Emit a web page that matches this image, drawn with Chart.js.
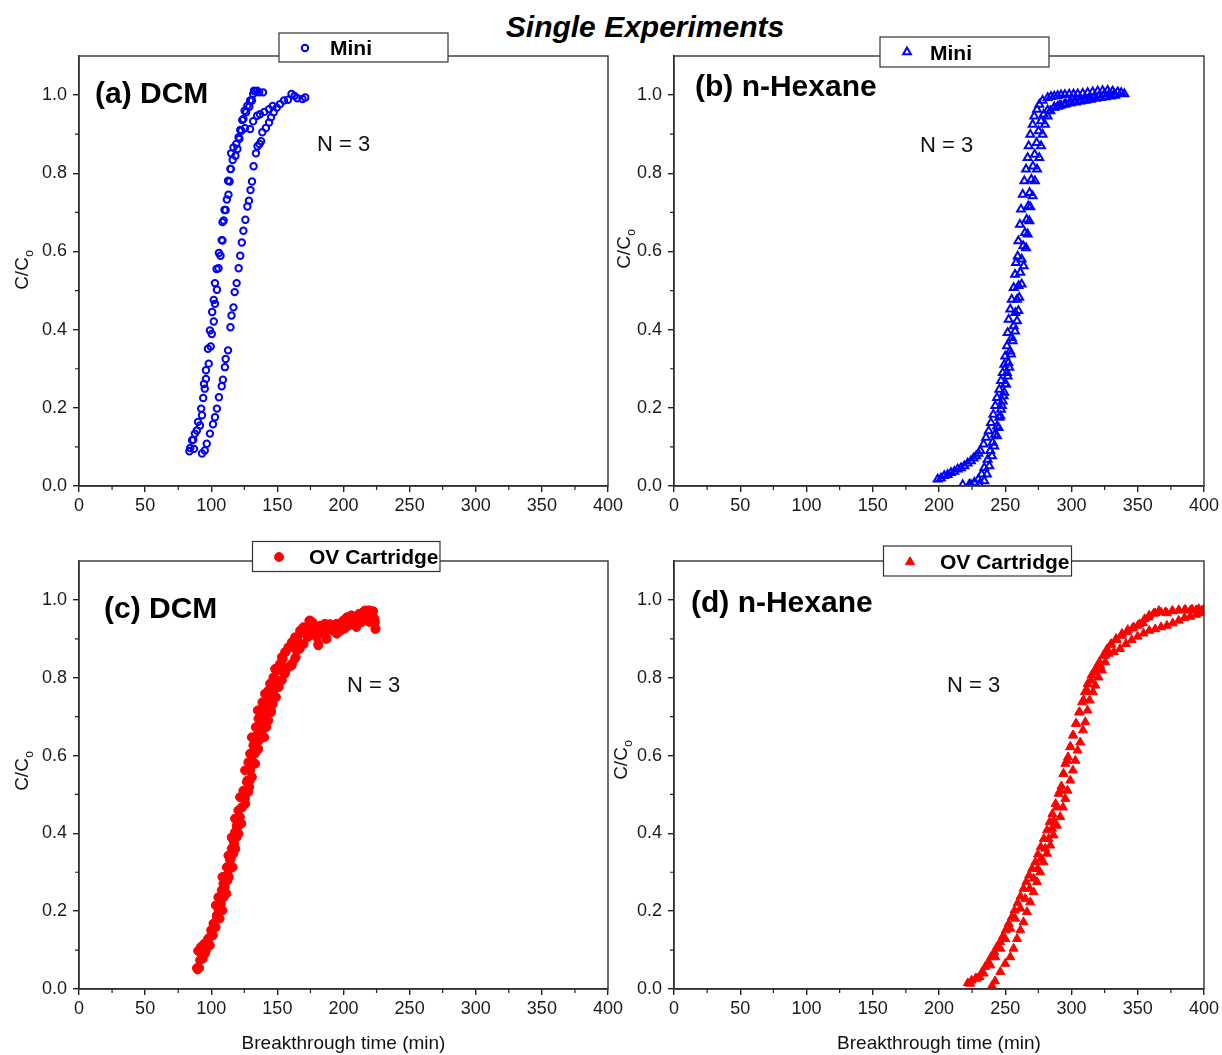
<!DOCTYPE html>
<html>
<head>
<meta charset="utf-8">
<title>Single Experiments</title>
<script src="https://cdn.jsdelivr.net/npm/chart.js@4.4.0/dist/chart.umd.min.js"></script>
<style>
  body { margin: 0; background: #fff; overflow: hidden; }
  .page { position: relative; width: 1222px; height: 1055px; }
  .page canvas { position: absolute; left: 0; top: 0; }
  .main-title {
    position: absolute; left: 645px; top: 10px; transform: translateX(-50%);
    font: italic bold 30px "Liberation Sans", Arial, sans-serif; color: #000; white-space: nowrap;
  }
</style>
</head>
<body>
<div class="page">
  <div class="main-title">Single Experiments</div>
  <canvas id="pa" width="1222" height="1055"></canvas>
  <canvas id="pb" width="1222" height="1055"></canvas>
  <canvas id="pc" width="1222" height="1055"></canvas>
  <canvas id="pd" width="1222" height="1055"></canvas>
</div>
<script>
// axis ticks shared by all four panels
const xTicks = [0, 50, 100, 150, 200, 250, 300, 350, 400];
const yTicks = [0, 0.2, 0.4, 0.6, 0.8, 1.0];
const xMinor = [25, 75, 125, 175, 225, 275, 325, 375];
const yMinor = [0.1, 0.3, 0.5, 0.7, 0.9];

const xTitle = 'Breakthrough time (min)';
const nLabel = 'N = 3';

// (a) DCM, Mini - three runs, [time (min), C/Co]
const dcmMini1 = [[83.5,0.089],[85.5,0.117],[87.6,0.134],[90.0,0.164],[92.4,0.198],[93.9,0.225],[94.5,0.261],[96.0,0.296],
  [97.5,0.351],[99.0,0.398],[100.7,0.445],[101.9,0.476],[102.8,0.519],[104.0,0.555],[105.8,0.596],[107.9,0.629],[108.5,0.675],
  [110.0,0.706],[111.8,0.733],[112.7,0.781],[114.5,0.811],[115.0,0.851],[116.8,0.866],[118.9,0.875],[120.7,0.892],[121.9,0.911],
  [123.4,0.936],[125.2,0.960],[127.3,0.973],[129.4,0.986],[131.7,1.003],[133.2,1.009],[136.2,1.007]];
const dcmMini2 = [[84.1,0.097],[87.0,0.095],[86.4,0.118],[89.1,0.142],[91.5,0.155],[93.0,0.181],[95.1,0.249],[96.0,0.274],
  [98.1,0.313],[99.6,0.357],[100.4,0.389],[101.9,0.421],[102.8,0.466],[104.3,0.502],[105.5,0.557],[107.0,0.589],[108.5,0.628],
  [109.4,0.679],[110.9,0.706],[113.0,0.745],[113.9,0.779],[114.8,0.811],[116.2,0.834],[118.3,0.845],[119.8,0.862],[121.3,0.888],
  [122.8,0.909],[124.3,0.939],[126.4,0.956],[128.8,0.970],[130.8,0.986],[132.3,1.011],[134.7,1.011],[139.2,1.007],
  [125.5,0.915],[129.4,0.913],[131.7,0.933],[134.7,0.947],[136.8,0.951],[140.1,0.957],[143.7,0.964],[146.5,0.972]];
const dcmMini3 = [[93.0,0.083],[95.1,0.091],[96.6,0.108],[99.0,0.134],[101.3,0.158],[102.8,0.176],[104.3,0.198],[105.8,0.227],
  [107.9,0.255],[108.8,0.272],[110.3,0.304],[110.9,0.325],[112.7,0.347],[114.5,0.406],[115.3,0.436],[116.8,0.457],[117.7,0.496],
  [119.2,0.519],[120.7,0.557],[121.9,0.589],[123.1,0.623],[124.3,0.653],[125.8,0.681],[127.3,0.715],[128.5,0.730],[129.7,0.757],
  [130.8,0.779],[132.0,0.818],[133.8,0.851],[135.0,0.869],[136.5,0.875],[137.7,0.882],[138.6,0.905],[141.3,0.916],[143.7,0.930],
  [145.2,0.943],[147.2,0.956],[149.6,0.968],[152.0,0.977],[155.0,0.986],[158.0,0.988],[160.7,1.003],[163.0,0.998],[165.1,0.992],
  [169.0,0.990],[171.1,0.994]];

// (b) n-Hexane, Mini
const hexMini1 = [[199.0,0.017],[201.5,0.020],[204.0,0.026],[206.5,0.029],[209.0,0.034],[211.6,0.037],[214.1,0.043],[216.6,0.046],
  [219.1,0.051],[221.6,0.058],[224.1,0.064],[226.1,0.071],[228.0,0.077],[229.7,0.083],[231.2,0.090],[233.7,0.107],[235.5,0.124],
  [237.5,0.141],[239.2,0.162],[241.0,0.183],[242.5,0.205],[243.8,0.226],[245.5,0.247],[246.8,0.269],[248.1,0.290],[249.3,0.311],
  [250.0,0.332],[251.3,0.358],[251.8,0.392],[252.6,0.426],[253.8,0.452],[254.9,0.477],[256.4,0.507],[257.4,0.541],[258.1,0.571],
  [259.4,0.588],[259.9,0.627],[261.1,0.669],[261.9,0.708],[263.2,0.746],[264.4,0.780],[265.7,0.810],[266.9,0.840],[267.7,0.870],
  [268.9,0.899],[270.7,0.925],[271.9,0.946],[274.0,0.963],[275.7,0.976],[278.2,0.986],[282.0,0.993],[284.5,0.996],[287.0,0.997],
  [289.5,0.998],[292.1,1.000],[295.0,1.001],[298.3,1.002],[301.5,1.002],[304.7,1.003],[308.5,1.004],[312.2,1.006],[316.0,1.008],
  [319.8,1.010],[323.5,1.011],[327.3,1.012],[331.0,1.010],[334.9,1.008],[337.5,1.006],[339.9,1.003]];
const hexMini2 = [[217.9,0.003],[222.9,0.004],[226.7,0.009],[229.7,0.017],[232.2,0.030],[234.2,0.047],[236.7,0.068],[238.7,0.090],
  [240.5,0.111],[242.3,0.132],[243.8,0.153],[245.5,0.175],[246.8,0.196],[248.1,0.217],[249.3,0.239],[250.6,0.260],[251.8,0.281],
  [253.1,0.303],[254.3,0.337],[255.6,0.371],[257.4,0.396],[258.9,0.422],[259.9,0.448],[260.6,0.482],[262.4,0.516],[263.9,0.563],
  [265.7,0.609],[266.9,0.644],[268.2,0.678],[268.9,0.714],[270.7,0.742],[272.4,0.780],[274.0,0.810],[275.7,0.840],[277.0,0.870],
  [278.2,0.899],[280.0,0.925],[282.0,0.946],[284.0,0.959],[287.0,0.968],[289.5,0.971],[292.1,0.974],[295.8,0.977],[299.6,0.980],
  [303.4,0.982],[307.2,0.985],[311.0,0.987],[314.7,0.989],[318.5,0.991],[322.3,0.993],[326.0,0.995],[329.8,0.997],[333.0,0.999]];
const hexMini3 = [[224.1,0.003],[230.4,0.004],[234.2,0.013],[236.2,0.030],[238.0,0.051],[240.0,0.077],[241.7,0.102],[243.8,0.128],
  [245.0,0.149],[246.3,0.179],[247.5,0.205],[248.8,0.230],[250.0,0.260],[251.3,0.290],[252.3,0.315],[253.6,0.345],[254.9,0.379],
  [256.4,0.409],[257.6,0.443],[258.9,0.477],[260.1,0.512],[261.4,0.546],[262.4,0.580],[263.6,0.614],[264.9,0.648],[266.2,0.682],
  [267.4,0.716],[268.4,0.750],[269.7,0.784],[270.9,0.818],[272.2,0.848],[273.7,0.878],[275.2,0.908],[277.0,0.934],[279.0,0.951],
  [282.0,0.961],[287.0,0.969],[290.8,0.972],[294.6,0.976],[298.4,0.980],[302.1,0.983],[305.9,0.984],[309.7,0.986],[313.5,0.990],
  [317.2,0.995],[321.0,0.999],[324.8,1.002],[328.5,1.003],[332.3,1.003]];

// (c) DCM, OV Cartridge
const dcmOv1 = [[89.1,0.054],[90.9,0.054],[90.0,0.098],[92.1,0.108],[93.6,0.078],[94.5,0.116],[96.0,0.099],[97.5,0.129],
  [99.0,0.112],[99.9,0.151],[101.3,0.138],[101.9,0.168],[103.4,0.159],[104.3,0.185],[105.5,0.202],[106.4,0.181],[107.3,0.219],
  [108.5,0.202],[109.4,0.236],[110.3,0.262],[111.5,0.245],[112.4,0.279],[113.3,0.288],[113.9,0.309],[114.8,0.335],[116.2,0.313],
  [116.8,0.348],[117.4,0.373],[118.3,0.360],[119.2,0.390],[119.8,0.416],[120.7,0.399],[121.3,0.442],[122.8,0.425],[123.4,0.467],
  [124.3,0.493],[125.8,0.476],[126.4,0.510],[127.3,0.536],[128.8,0.519],[129.4,0.562],[130.3,0.587],[130.8,0.545],[131.7,0.609],
  [133.2,0.579],[133.8,0.634],[134.7,0.613],[135.3,0.656],[136.2,0.639],[137.1,0.682],[138.3,0.664],[139.2,0.699],[140.1,0.647],
  [140.7,0.716],[141.6,0.673],[142.2,0.737],[143.1,0.690],[143.7,0.754],[145.2,0.711],[146.0,0.776],[146.6,0.733],[148.1,0.797],
  [149.0,0.750],[149.6,0.818],[151.1,0.776],[152.0,0.831],[153.2,0.793],[154.1,0.848],[155.6,0.810],[156.2,0.866],[158.0,0.827],
  [159.2,0.878],[161.0,0.836],[162.2,0.891],[163.9,0.853],[165.1,0.904],[166.9,0.874],[168.1,0.921],[169.9,0.887],[171.1,0.929],
  [172.9,0.904],[174.1,0.947],[175.0,0.921],[176.5,0.943],[177.9,0.913],[179.4,0.930],[180.9,0.887],[182.4,0.921],[183.9,0.934],
  [185.4,0.913],[186.9,0.900],[187.8,0.926],[189.9,0.938],[191.4,0.921],[192.8,0.930],[194.9,0.913],[196.7,0.934],[197.9,0.921],
  [199.7,0.947],[200.9,0.926],[202.7,0.955],[203.9,0.934],[205.7,0.960],[206.9,0.938],[208.6,0.951],[209.8,0.930],[211.6,0.964],
  [212.8,0.943],[214.6,0.968],[215.8,0.951],[217.6,0.960],[218.8,0.973],[219.7,0.943],[221.2,0.964],[222.7,0.954],[223.5,0.951],
  [224.1,0.925]];
const dcmOv2 = [[89.7,0.050],[91.5,0.074],[91.5,0.095],[94.0,0.104],[96.5,0.117],[95.3,0.091],[99.0,0.134],[100.3,0.151],
  [101.6,0.168],[104.1,0.189],[103.4,0.215],[106.6,0.219],[105.3,0.236],[107.9,0.254],[109.1,0.271],[108.4,0.288],[111.7,0.292],
  [111.7,0.313],[114.2,0.331],[112.9,0.343],[115.4,0.361],[116.7,0.382],[115.4,0.390],[117.9,0.403],[119.2,0.420],[117.9,0.438],
  [121.7,0.442],[120.4,0.459],[123.0,0.467],[121.7,0.493],[125.5,0.489],[124.2,0.510],[128.0,0.506],[126.8,0.532],[129.3,0.536],
  [125.5,0.562],[129.3,0.562],[128.0,0.583],[130.6,0.587],[129.3,0.605],[133.1,0.605],[131.8,0.626],[135.6,0.617],[130.6,0.647],
  [134.4,0.647],[133.6,0.673],[136.9,0.669],[135.6,0.695],[139.4,0.686],[135.1,0.716],[138.1,0.720],[141.9,0.712],[138.6,0.737],
  [145.2,0.716],[140.6,0.759],[143.1,0.767],[146.9,0.759],[144.4,0.785],[150.7,0.776],[146.9,0.801],[153.3,0.793],[148.2,0.823],
  [155.8,0.814],[152.0,0.836],[160.8,0.831],[153.3,0.853],[163.3,0.849],[155.8,0.866],[158.2,0.878],[164.6,0.870],[160.8,0.891],
  [167.1,0.887],[163.3,0.904],[167.1,0.921],[170.9,0.913],[169.6,0.930],[174.7,0.947],[177.2,0.930],[173.4,0.921],[179.7,0.904],
  [180.9,0.883],[182.2,0.934],[186.0,0.939],[187.3,0.900],[189.8,0.930],[192.3,0.921],[194.8,0.939],[197.3,0.930],[199.8,0.943],
  [202.4,0.955],[203.6,0.934],[206.2,0.960],[207.4,0.939],[209.9,0.951],[212.5,0.964],[213.7,0.943],[216.2,0.973],[217.5,0.951],
  [220.0,0.973],[221.8,0.960],[222.5,0.971],[223.8,0.943],[224.3,0.926]];

// (d) n-Hexane, OV Cartridge
const hexOv1 = [[221.7,0.015],[224.6,0.022],[227.6,0.027],[230.5,0.031],[232.6,0.044],[234.9,0.057],[237.3,0.069],[239.3,0.082],
  [241.7,0.095],[243.8,0.108],[246.2,0.121],[248.2,0.135],[250.3,0.151],[252.6,0.168],[255.0,0.185],[257.0,0.202],[259.4,0.221],
  [261.5,0.238],[263.8,0.258],[265.9,0.275],[268.0,0.292],[270.3,0.309],[272.7,0.326],[274.7,0.346],[276.8,0.365],[279.1,0.386],
  [281.5,0.408],[283.5,0.429],[285.6,0.450],[288.0,0.476],[290.3,0.502],[292.4,0.521],[293.9,0.553],[295.4,0.579],[297.4,0.596],
  [299.2,0.623],[301.3,0.652],[303.3,0.682],[305.7,0.711],[308.0,0.737],[310.1,0.763],[312.2,0.784],[315.1,0.806],[318.1,0.823],
  [321.0,0.840],[324.0,0.857],[326.9,0.874],[329.9,0.887],[333.7,0.900],[338.1,0.913],[342.5,0.923],[346.9,0.930],[351.4,0.938],
  [355.2,0.951],[358.7,0.960],[363.2,0.966],[367.6,0.968],[372.0,0.966],[376.4,0.971],[380.9,0.973],[385.3,0.974],[389.7,0.973],
  [394.1,0.974],[398.5,0.973]];
const hexOv2 = [[240.0,0.008],[242.3,0.020],[246.3,0.044],[250.0,0.065],[253.8,0.082],[256.3,0.104],[258.9,0.129],[261.4,0.151],
  [263.8,0.172],[266.4,0.198],[268.9,0.223],[271.4,0.249],[274.0,0.275],[276.4,0.300],[278.9,0.326],[281.5,0.348],[284.0,0.369],
  [286.5,0.395],[289.0,0.420],[291.5,0.442],[293.6,0.467],[295.3,0.489],[297.0,0.510],[299.1,0.536],[301.1,0.562],[302.9,0.587],
  [304.6,0.613],[306.6,0.634],[308.7,0.665],[310.4,0.686],[312.1,0.716],[313.7,0.742],[316.2,0.763],[318.0,0.780],[320.4,0.801],
  [323.0,0.819],[325.5,0.840],[328.0,0.862],[332.0,0.866],[336.6,0.874],[341.1,0.887],[345.5,0.897],[349.9,0.906],[354.4,0.914],
  [358.7,0.921],[363.2,0.925],[367.6,0.930],[372.0,0.934],[376.4,0.940],[380.9,0.947],[385.3,0.954],[389.7,0.957],[394.1,0.962],
  [398.5,0.966]];
const hexOv3 = [[223.6,0.014],[228.7,0.027],[233.7,0.040],[238.7,0.061],[242.5,0.082],[246.3,0.104],[250.0,0.129],[253.8,0.155],
  [257.5,0.181],[261.4,0.207],[265.1,0.232],[268.4,0.258],[271.4,0.284],[274.4,0.309],[277.2,0.335],[280.2,0.361],[282.7,0.386],
  [285.3,0.412],[286.5,0.433],[289.0,0.467],[291.5,0.510],[294.0,0.553],[296.6,0.587],[299.1,0.622],[301.1,0.652],[303.6,0.682],
  [306.1,0.712],[309.1,0.742],[311.7,0.767],[314.7,0.793],[318.0,0.814],[321.7,0.831],[325.5,0.857],[330.0,0.885],[334.0,0.897],
  [338.0,0.908],[342.0,0.918],[346.0,0.927],[350.0,0.934],[354.0,0.941],[358.0,0.955],[362.0,0.965],[366.0,0.972],[371.0,0.969],
  [376.0,0.972],[381.0,0.974],[386.0,0.975],[391.0,0.976],[396.0,0.977],[400.0,0.977]];

const FONT = '"Liberation Sans", Arial, Helvetica, sans-serif';
const PAGE_W = 1222, PAGE_H = 1055;
const Y_AXIS_W = 60, X_AXIS_H = 34;

// marker used in the small legend boxes
function drawMarker(ctx, ds, x, y) {
  ctx.save();
  ctx.fillStyle = ds.pointBackgroundColor;
  ctx.strokeStyle = ds.pointBorderColor;
  ctx.lineWidth = ds.pointBorderWidth;
  const opts = { pointStyle: ds.pointStyle, radius: ds.pointRadius, borderWidth: ds.pointBorderWidth, rotation: 0 };
  if (Chart.helpers && Chart.helpers.drawPoint) {
    Chart.helpers.drawPoint(ctx, opts, x, y);
  } else {
    ctx.beginPath();
    ctx.arc(x, y, ds.pointRadius, 0, Math.PI * 2);
    ctx.fill(); ctx.stroke();
  }
  ctx.restore();
}

const decor = {
  id: 'decor',
  afterDraw(chart, args, o) {
    const ctx = chart.ctx, a = chart.chartArea;
    const xs = chart.scales.x, ys = chart.scales.y;
    ctx.save();

    // box round the plot
    ctx.strokeStyle = '#333';
    ctx.lineWidth = 1.4;
    ctx.strokeRect(a.left, a.top, a.right - a.left, a.bottom - a.top);

    // minor ticks
    ctx.strokeStyle = '#222';
    ctx.lineWidth = 1.2;
    ctx.beginPath();
    xMinor.forEach(v => {
      const px = xs.getPixelForValue(v);
      ctx.moveTo(px, a.bottom); ctx.lineTo(px, a.bottom + 4);
    });
    yMinor.forEach(v => {
      const py = ys.getPixelForValue(v);
      ctx.moveTo(a.left, py); ctx.lineTo(a.left - 4, py);
    });
    ctx.stroke();

    ctx.fillStyle = '#000';
    ctx.textAlign = 'left';
    ctx.textBaseline = 'alphabetic';

    // panel name
    ctx.font = 'bold 30px ' + FONT;
    ctx.fillText(o.name.text, o.name.x, o.name.y);

    // replicate count
    ctx.font = '22px ' + FONT;
    ctx.fillStyle = '#111';
    ctx.fillText(nLabel, o.n.x, o.n.y);

    // legend box
    const lg = o.legend;
    ctx.fillStyle = '#fff';
    ctx.fillRect(lg.box[0], lg.box[1], lg.box[2] - lg.box[0], lg.box[3] - lg.box[1]);
    ctx.strokeStyle = '#333';
    ctx.lineWidth = 1.2;
    ctx.strokeRect(lg.box[0], lg.box[1], lg.box[2] - lg.box[0], lg.box[3] - lg.box[1]);
    drawMarker(ctx, chart.data.datasets[0], lg.mx, lg.my);
    ctx.fillStyle = '#000';
    ctx.font = 'bold 21px ' + FONT;
    ctx.fillText(lg.text, lg.tx, lg.ty);

    // y axis title C/Co
    ctx.save();
    ctx.translate(o.yTitle.x, o.yTitle.y);
    ctx.rotate(-Math.PI / 2);
    ctx.fillStyle = '#111';
    ctx.font = '19px ' + FONT;
    const w = ctx.measureText('C/C').width;
    const total = w + 7;
    ctx.fillText('C/C', -total / 2, 0);
    ctx.font = '12px ' + FONT;
    ctx.fillText('o', -total / 2 + w + 0.5, 5);
    ctx.restore();

    // x axis title, bottom row only
    if (o.xTitle) {
      ctx.fillStyle = '#111';
      ctx.font = '19px ' + FONT;
      ctx.textAlign = 'center';
      ctx.fillText(xTitle, (a.left + a.right) / 2, 1049);
    }
    ctx.restore();
  }
};

function makePanel(id, area, runs, style, deco) {
  const datasets = runs.map(run => ({
    data: run.map(p => ({ x: p[0], y: p[1] })),
    pointStyle: style.shape,
    pointRadius: style.radius,
    pointBorderWidth: style.border,
    pointBorderColor: style.color,
    pointBackgroundColor: style.fill,
    borderColor: style.color,
    backgroundColor: style.fill,
    showLine: false,
    clip: 0
  }));

  const tickFont = { family: FONT, size: 18 };
  new Chart(document.getElementById(id), {
    type: 'scatter',
    data: { datasets },
    options: {
      responsive: false,
      animation: false,
      events: [],
      layout: {
        padding: {
          left: area.left - Y_AXIS_W,
          top: area.top,
          right: PAGE_W - area.right,
          bottom: PAGE_H - area.bottom - X_AXIS_H
        }
      },
      plugins: { legend: { display: false }, tooltip: { enabled: false }, decor: deco },
      scales: {
        x: {
          type: 'linear', min: 0, max: 400,
          afterFit: s => { s.height = X_AXIS_H; },
          afterBuildTicks: s => { s.ticks = xTicks.map(v => ({ value: v })); },
          border: { color: '#222', width: 1.4 },
          grid: { drawOnChartArea: false, tickLength: 6, color: '#222', lineWidth: 1.4 },
          ticks: { padding: 3, color: '#1a1a1a', font: tickFont, maxRotation: 0, autoSkip: false, callback: v => String(v) }
        },
        y: {
          type: 'linear', min: 0, max: 1.1,
          afterFit: s => { s.width = Y_AXIS_W; },
          afterBuildTicks: s => { s.ticks = yTicks.map(v => ({ value: v })); },
          border: { color: '#222', width: 1.4 },
          grid: { drawOnChartArea: false, tickLength: 6, color: '#222', lineWidth: 1.4 },
          ticks: { padding: 6, color: '#1a1a1a', font: tickFont, autoSkip: false, callback: v => Number(v).toFixed(1) }
        }
      }
    },
    plugins: [decor]
  });
}

const blueOpenCircle = { shape: 'circle', radius: 3.2, border: 2, color: '#0000ff', fill: 'rgba(0,0,0,0)' };
const blueOpenTriangle = { shape: 'triangle', radius: 4.5, border: 2, color: '#0000ff', fill: 'rgba(0,0,0,0)' };
const redCircle = { shape: 'circle', radius: 4.4, border: 1, color: '#ff0000', fill: '#ff0000' };
const redTriangle = { shape: 'triangle', radius: 5.2, border: 1, color: '#ff0000', fill: '#ff0000' };

makePanel('pa', { left: 79, top: 56, right: 608, bottom: 486 }, [dcmMini1, dcmMini2, dcmMini3], blueOpenCircle, {
  name: { text: '(a) DCM', x: 95, y: 103 },
  n: { x: 317, y: 151 },
  legend: { box: [279, 33, 448, 62], mx: 305, my: 48, text: 'Mini', tx: 330, ty: 55 },
  yTitle: { x: 28, y: 270 },
  xTitle: false
});
makePanel('pb', { left: 674, top: 56, right: 1204, bottom: 486 }, [hexMini1, hexMini2, hexMini3], blueOpenTriangle, {
  name: { text: '(b) n-Hexane', x: 695, y: 96 },
  n: { x: 920, y: 152 },
  legend: { box: [880, 37, 1049, 67], mx: 907, my: 52, text: 'Mini', tx: 930, ty: 60 },
  yTitle: { x: 630, y: 249 },
  xTitle: false
});
makePanel('pc', { left: 79, top: 561, right: 608, bottom: 989 }, [dcmOv1, dcmOv2], redCircle, {
  name: { text: '(c) DCM', x: 104, y: 618 },
  n: { x: 347, y: 692 },
  legend: { box: [252.5, 541.5, 440, 571.5], mx: 279, my: 557, text: 'OV Cartridge', tx: 309, ty: 564 },
  yTitle: { x: 28, y: 771 },
  xTitle: true
});
makePanel('pd', { left: 674, top: 561, right: 1204, bottom: 989 }, [hexOv1, hexOv2, hexOv3], redTriangle, {
  name: { text: '(d) n-Hexane', x: 691, y: 612 },
  n: { x: 947, y: 692 },
  legend: { box: [883.5, 546, 1071.5, 576], mx: 910, my: 562, text: 'OV Cartridge', tx: 940, ty: 569 },
  yTitle: { x: 627, y: 760 },
  xTitle: true
});
</script>
</body>
</html>
